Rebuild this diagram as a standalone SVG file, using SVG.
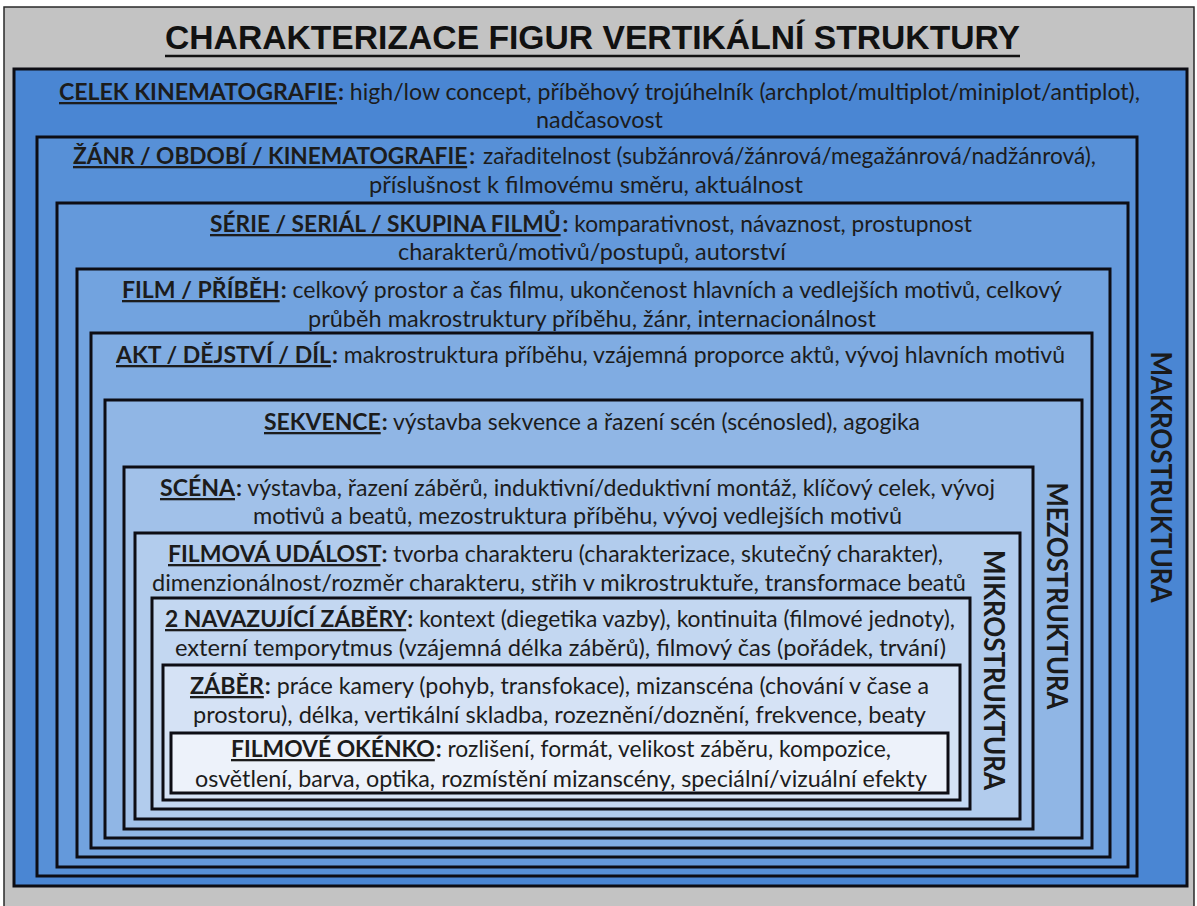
<svg xmlns="http://www.w3.org/2000/svg" width="1197" height="906" viewBox="0 0 1197 906">
  <style>
    .box { stroke: #0d0d14; stroke-width: 3; }
    .t { font-family: Lato, "Open Sans", "DejaVu Sans", sans-serif; font-size: 23px; fill: #1c1c1c; }
    .lb { font-weight: bold; text-decoration: underline; }
    .b { font-weight: bold; }
    .vert { font-family: Lato, "Open Sans", "DejaVu Sans", sans-serif; font-size: 29px; font-weight: bold; fill: #1a1a1a; }
    .title { font-family: "Liberation Sans", Arial, sans-serif; font-size: 33px; font-weight: bold; fill: #111; }
  </style>

  <!-- page background -->
  <rect x="0" y="0" width="1197" height="906" fill="#ffffff"/>
  <rect x="4" y="7" width="1190" height="905" fill="#c3c3c3" stroke="#2a2a2a" stroke-width="1.5"/>

  <g id="title">
    <text class="title" x="165" y="49" textLength="855" lengthAdjust="spacingAndGlyphs">CHARAKTERIZACE FIGUR VERTIKÁLNÍ STRUKTURY</text>
    <line x1="165" y1="56" x2="1020" y2="56" stroke="#111" stroke-width="2.5"/>
  </g>

  <g id="celek-kinematografie">
    <rect class="box" x="14" y="69" width="1173" height="817" fill="#4a86d3"/>
    <text class="t" x="59" y="100" textLength="1081" lengthAdjust="spacingAndGlyphs"><tspan class="lb">CELEK KINEMATOGRAFIE</tspan><tspan class="b" dx="1">:</tspan> high/low concept, příběhový trojúhelník (archplot/multiplot/miniplot/antiplot),</text>
    <text class="t" x="536" y="128" textLength="127" lengthAdjust="spacingAndGlyphs">nadčasovost</text>
  </g>

  <g id="zanr-obdobi">
    <rect class="box" x="37" y="137" width="1100" height="739" fill="#5790d7"/>
    <text class="t" x="73" y="164" font-size="21" textLength="402" lengthAdjust="spacingAndGlyphs"><tspan class="lb">ŽÁNR / OBDOBÍ / KINEMATOGRAFIE</tspan><tspan class="b" dx="2">:</tspan></text>
    <text class="t" x="483" y="164" textLength="613" lengthAdjust="spacingAndGlyphs">zařaditelnost (subžánrová/žánrová/megažánrová/nadžánrová),</text>
    <text class="t" x="369" y="193" textLength="434" lengthAdjust="spacingAndGlyphs">příslušnost k filmovému směru, aktuálnost</text>
  </g>

  <g id="serie-serial">
    <rect class="box" x="57" y="203" width="1071" height="664" fill="#6499db"/>
    <text class="t" x="210" y="232" textLength="762" lengthAdjust="spacingAndGlyphs"><tspan class="lb">SÉRIE / SERIÁL  / SKUPINA FILMŮ</tspan><tspan class="b" dx="2">:</tspan> komparativnost, návaznost, prostupnost</text>
    <text class="t" x="398" y="260" textLength="388" lengthAdjust="spacingAndGlyphs">charakterů/motivů/postupů, autorství</text>
  </g>

  <g id="film-pribeh">
    <rect class="box" x="77" y="269" width="1033" height="588" fill="#72a3df"/>
    <text class="t" x="122" y="298" textLength="940" lengthAdjust="spacingAndGlyphs"><tspan class="lb">FILM  / PŘÍBĚH</tspan><tspan class="b" dx="1">:</tspan> celkový prostor a čas filmu, ukončenost hlavních a vedlejších motivů, celkový</text>
    <text class="t" x="308" y="327" textLength="568" lengthAdjust="spacingAndGlyphs">průběh makrostruktury příběhu, žánr, internacionálnost</text>
  </g>

  <g id="akt-dejstvi">
    <rect class="box" x="91" y="333" width="1001" height="515" fill="#80ace2"/>
    <text class="t" x="116" y="363" textLength="949" lengthAdjust="spacingAndGlyphs"><tspan class="lb">AKT / DĚJSTVÍ / DÍL</tspan><tspan class="b" dx="1">:</tspan> makrostruktura příběhu, vzájemná proporce aktů, vývoj hlavních motivů</text>
  </g>

  <g id="sekvence">
    <rect class="box" x="105" y="400" width="977" height="438" fill="#90b6e5"/>
    <text class="t" x="264" y="430" textLength="656" lengthAdjust="spacingAndGlyphs"><tspan class="lb">SEKVENCE</tspan><tspan class="b" dx="1">:</tspan> výstavba sekvence a řazení scén (scénosled), agogika</text>
  </g>

  <g id="scena">
    <rect class="box" x="124" y="467" width="909" height="362" fill="#a1c1e9"/>
    <text class="t" x="160" y="496" textLength="835" lengthAdjust="spacingAndGlyphs"><tspan class="lb">SCÉNA</tspan><tspan class="b" dx="1">:</tspan> výstavba, řazení záběrů, induktivní/deduktivní montáž, klíčový celek, vývoj</text>
    <text class="t" x="253" y="524" textLength="649" lengthAdjust="spacingAndGlyphs">motivů a beatů, mezostruktura příběhu, vývoj vedlejších motivů</text>
  </g>

  <g id="filmova-udalost">
    <rect class="box" x="135" y="533" width="885" height="286" fill="#b2cced"/>
    <text class="t" x="168" y="562" textLength="775" lengthAdjust="spacingAndGlyphs"><tspan class="lb">FILMOVÁ UDÁLOST</tspan><tspan class="b" dx="1">:</tspan> tvorba charakteru (charakterizace, skutečný charakter),</text>
    <text class="t" x="152" y="591" textLength="814" lengthAdjust="spacingAndGlyphs">dimenzionálnost/rozměr charakteru, střih v mikrostruktuře, transformace beatů</text>
  </g>

  <g id="navazujici-zabery">
    <rect class="box" x="152" y="598" width="818" height="211" fill="#c3d7f1"/>
    <text class="t" x="165" y="627" textLength="790" lengthAdjust="spacingAndGlyphs"><tspan class="lb">2 NAVAZUJÍCÍ ZÁBĚRY</tspan><tspan class="b" dx="1">:</tspan> kontext (diegetika vazby), kontinuita (filmové jednoty),</text>
    <text class="t" x="175" y="656" textLength="771" lengthAdjust="spacingAndGlyphs">externí temporytmus (vzájemná délka záběrů), filmový čas (pořádek, trvání)</text>
  </g>

  <g id="zaber">
    <rect class="box" x="163" y="665" width="797" height="135" fill="#d5e2f5"/>
    <text class="t" x="190" y="694" textLength="739" lengthAdjust="spacingAndGlyphs"><tspan class="lb">ZÁBĚR</tspan><tspan class="b" dx="1">:</tspan> práce kamery (pohyb, transfokace), mizanscéna (chování v čase a</text>
    <text class="t" x="193" y="723" textLength="733" lengthAdjust="spacingAndGlyphs">prostoru), délka, vertikální skladba, rozeznění/doznění, frekvence, beaty</text>
  </g>

  <g id="filmove-okenko">
    <rect class="box" x="171" y="733" width="777" height="60" fill="#edf2fa"/>
    <text class="t" x="231" y="757" textLength="660" lengthAdjust="spacingAndGlyphs"><tspan class="lb">FILMOVÉ OKÉNKO</tspan><tspan class="b" dx="1">:</tspan> rozlišení, formát, velikost záběru, kompozice,</text>
    <text class="t" x="195" y="787" textLength="732" lengthAdjust="spacingAndGlyphs">osvětlení, barva, optika, rozmístění mizanscény, speciální/vizuální efekty</text>
  </g>

  <!-- vertical level labels -->
  <g id="makrostruktura">
    <text class="vert" transform="translate(1161,477) rotate(90)" x="0" y="10" text-anchor="middle" textLength="251" lengthAdjust="spacingAndGlyphs">MAKROSTRUKTURA</text>
  </g>
  <g id="mezostruktura">
    <text class="vert" transform="translate(1057,596) rotate(90)" x="0" y="10" text-anchor="middle" textLength="227" lengthAdjust="spacingAndGlyphs">MEZOSTRUKTURA</text>
  </g>
  <g id="mikrostruktura">
    <text class="vert" transform="translate(994,670) rotate(90)" x="0" y="10" text-anchor="middle" textLength="240" lengthAdjust="spacingAndGlyphs">MIKROSTRUKTURA</text>
  </g>
</svg>
